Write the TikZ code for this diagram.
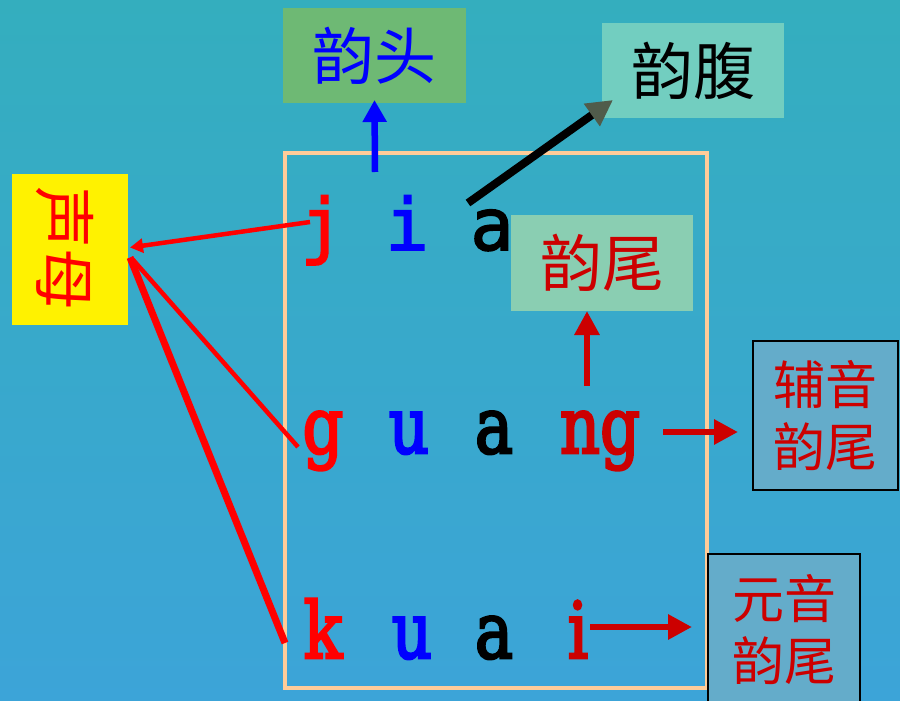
\documentclass[tikz,border=0pt]{standalone}
\usepackage{fontspec}
\usetikzlibrary{arrows.meta}
\newfontfamily\cjk{Noto Sans CJK SC}
\newfontfamily\monoa{DejaVu Sans Mono}[FakeBold=2.2]
\newfontfamily\serifb{DejaVu Serif}[FakeBold=3.5]
\definecolor{bgtop}{RGB}{52,174,190}
\definecolor{bgbot}{RGB}{60,164,216}
\definecolor{tougreen}{RGB}{110,185,116}
\definecolor{futeal}{RGB}{114,206,192}
\definecolor{weigreen}{RGB}{138,206,178}
\definecolor{sidebox}{RGB}{100,172,202}
\definecolor{framec}{RGB}{255,204,153}
\definecolor{dred}{RGB}{204,0,0}
\definecolor{headgray}{RGB}{80,92,75}
\begin{document}
\begin{tikzpicture}[x=1pt,y=-1pt,
  box/.style={inner sep=0pt, outer sep=0pt, align=center},
  cjkbig/.style={font=\cjk\fontsize{62}{62}\selectfont},
  cjksmall/.style={font=\cjk\fontsize{52}{62}\selectfont},
  rowa/.style={font=\monoa\fontsize{72}{72}\selectfont, inner sep=0pt, anchor=base},
  rowb/.style={font=\serifb\fontsize{78}{78}\selectfont, inner sep=0pt, anchor=base},
  arr/.style={-{Triangle[length=24pt,width=24pt]}, line width=6.5pt},
  link/.style={red, line width=4.5pt},
]
\useasboundingbox (0,0) rectangle (900,701);
\shade[top color=bgtop, bottom color=bgbot] (0,0) rectangle (900,701);

% frame
\draw[framec, line width=4.5pt] (285,153) rectangle (707,688);

% boxes
\node[box, fill=yellow, minimum width=116pt, minimum height=151pt] (sm) at (70,249.5) {};
\node[box, text=red, cjkbig, rotate=-90] (smt) at (65,248) {声母};
\node[box, fill=tougreen, minimum width=183pt, minimum height=95pt, text=blue, cjkbig] (tou) at (374.5,55.5) {\raisebox{-6pt}{韵头}};
\node[box, fill=futeal, minimum width=182pt, minimum height=95pt, text=black, cjkbig] (fu) at (693,70.5) {\raisebox{-5pt}{韵腹}};
\node[box, fill=weigreen, minimum width=182pt, minimum height=96pt, text=dred, cjkbig] (wei) at (602,263) {\raisebox{-4pt}{韵尾}};
\node[box, fill=sidebox, draw=black, line width=2.5pt, minimum width=145pt, minimum height=149pt, text=dred, cjksmall] (fy) at (825.5,415.5) {辅音\\韵尾};
\node[box, fill=sidebox, draw=black, line width=1.5pt, minimum width=152pt, minimum height=152pt, text=dred, cjksmall] (yy) at (784,630) {元音\\韵尾};

% letters row 1
\node[rowa, text=red] (j1) at (322,250) {j};
\node[rowa, text=blue] (i1) at (407,250) {i};
\node[rowa, text=black] (a1) at (492,250) {a};
% row 2
\node[rowb, text=red] (g2) at (323,453) {\scalebox{0.82}[1]{g}};
\node[rowb, text=blue] (u2) at (409,453) {\scalebox{0.8}[1]{u}};
\node[rowb, text=black] (a2) at (494,453) {\scalebox{0.82}[1]{a}};
\node[rowb, text=dred] (ng2) at (600,453) {\scalebox{0.8}[1]{ng}};
% row 3
\node[rowb, text=red] (k3) at (323,658) {\scalebox{0.82}[1]{k}};
\node[rowb, text=blue] (u3) at (412,658) {\scalebox{0.8}[1]{u}};
\node[rowb, text=black] (a3) at (494,658) {\scalebox{0.82}[1]{a}};
\node[rowb, text=dred] (i3) at (578,658) {\scalebox{0.82}[1]{i}};

% connector start points
\coordinate (c1) at (375,172);
\coordinate (c2) at (468,203);
\coordinate (c3) at (587,386);
\coordinate (c4) at (663,432);
\coordinate (c5) at (590,627);
\coordinate (lj) at (310,222);
\coordinate (lg) at (298,447);
\coordinate (lk) at (285,643);

% arrows
\draw[arr, blue, -{Triangle[length=22pt,width=23pt]}] (c1) -- ([yshift=3pt]tou.south);
\draw[line width=8pt, -{Triangle[length=26pt,width=26pt,color=headgray]}] (c2) -- ([shift={(11,-18)}]fu.south west);
\draw[arr, dred] (c3) -- (c3 |- wei.south);
\draw[arr, dred, shorten >=15pt] (c4) -- (c4 -| fy.west);
\draw[arr, dred, shorten >=16pt] (c5) -- (c5 -| yy.west);

% links to 声母
\draw[link, -{Triangle[length=13pt,width=14pt]}] (lj) -- ([shift={(2,-2)}]sm.east);
\draw[link] (lg) -- ([shift={(3,8)}]sm.east);
\draw[link, line width=7pt] (lk) -- ([shift={(2,8)}]sm.east);
\end{tikzpicture}
\end{document}
